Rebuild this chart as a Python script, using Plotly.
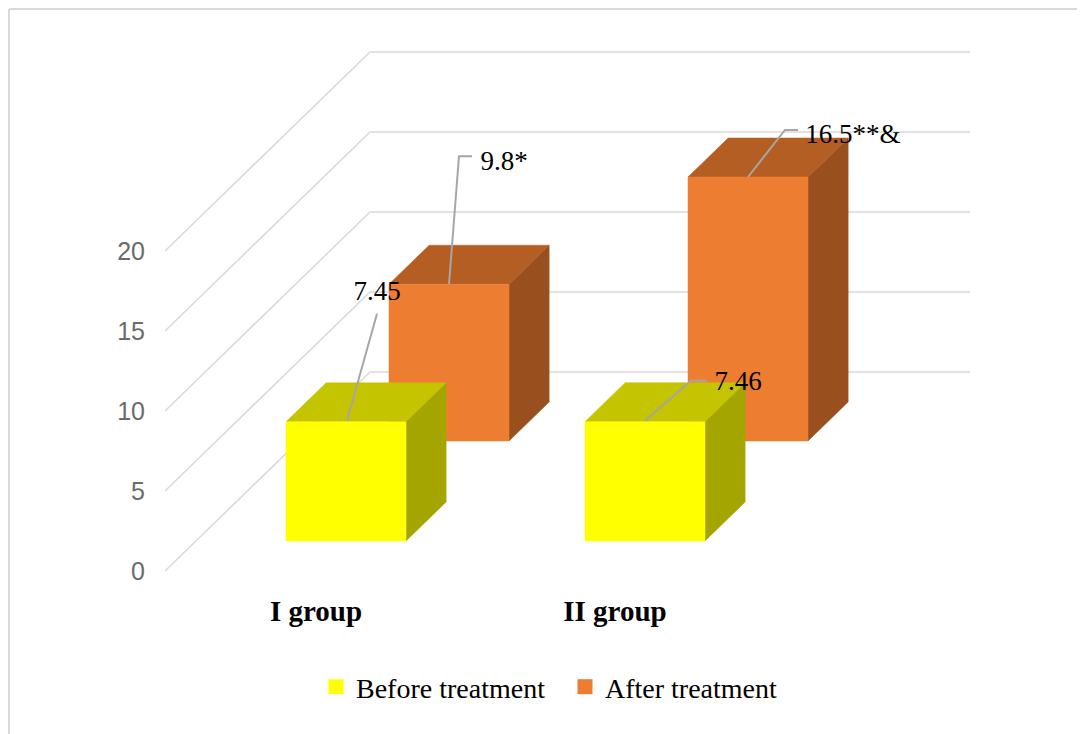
import plotly.graph_objects as go

# ---- data ----
groups = ["I group", "II group"]
series_names = ["Before treatment", "After treatment"]
before = [7.45, 7.46]
after = [9.8, 16.5]
before_labels = ["7.45", "7.46"]
after_labels = ["9.8*", "16.5**&"]
y_ticks = [0, 5, 10, 15, 20]

# ---- page / projection settings ----
PAGE_W, PAGE_H = 1085, 734
BODY_MARGIN = 8              # browser default body margin
W, H = PAGE_W - BODY_MARGIN, PAGE_H - BODY_MARGIN
LEFT_PX = 150.0
AXIS_PX = 591.0
PX_PER_UNIT = 16.0
Y0_PX = 571.0
X_SLOPE = 1.03
GROUP_STEP = 299.0
BAR_X0 = 255.1
BAR_W = 120.0
BAR_DEPTH = 39.0
ROW_D = [30.0, 130.0]
WALL_D = 199.0
FLOOR_X = 165.0
WALL_END_X = 970.0
COL = {
    0: ("#FFFF00", "#C4C400", "#A5A500"),
    1: ("#ED7D31", "#B55E23", "#9A501E"),
}


def val_px(py):
    return (Y0_PX - py) / PX_PER_UNIT


def paper_x(px):
    return (px - LEFT_PX) / (PAGE_W - LEFT_PX)


def paper_y(py):
    return (AXIS_PX - py) / (AXIS_PX - BODY_MARGIN)


def proj(x, d, v):
    """x (axis px units) and value at depth d -> axis coordinates."""
    return x + d * X_SLOPE, v + d / PX_PER_UNIT


fig = go.Figure()


def poly(points, fill):
    fig.add_trace(go.Scatter(
        x=[p[0] for p in points] + [points[0][0]],
        y=[p[1] for p in points] + [points[0][1]],
        mode="lines", fill="toself", fillcolor=fill,
        line=dict(color=fill, width=0.5), showlegend=False, hoverinfo="skip",
    ))


def line(xs, ys, color, width):
    fig.add_trace(go.Scatter(
        x=xs, y=ys, mode="lines", line=dict(color=color, width=width),
        showlegend=False, hoverinfo="skip", cliponaxis=False,
    ))


# grid: side wall + back wall
for t in y_ticks:
    a = (FLOOR_X, t)
    b = (FLOOR_X + WALL_D * X_SLOPE, t + WALL_D / PX_PER_UNIT)
    c = (WALL_END_X, b[1])
    line([a[0], b[0], c[0]], [a[1], b[1], c[1]], "#D9D9D9", 1.5)


def bar(group_i, row, value):
    front, top, side = COL[row]
    x0 = BAR_X0 + GROUP_STEP * group_i
    x1 = x0 + BAR_W
    d0 = ROW_D[row]
    d1 = d0 + BAR_DEPTH
    poly([proj(x1, d0, 0), proj(x1, d1, 0), proj(x1, d1, value), proj(x1, d0, value)], side)
    poly([proj(x0, d0, value), proj(x0, d1, value), proj(x1, d1, value), proj(x1, d0, value)], top)
    poly([proj(x0, d0, 0), proj(x1, d0, 0), proj(x1, d0, value), proj(x0, d0, value)], front)


for i in range(len(groups)):
    bar(i, 1, after[i])
for i in range(len(groups)):
    bar(i, 0, before[i])


def leader_and_label(group_i, row, value, text, path, label_off, size):
    x0 = BAR_X0 + GROUP_STEP * group_i + BAR_W / 2
    ax, ay = proj(x0, ROW_D[row], value)
    xs = [ax + p[0] for p in path]
    ys = [ay - p[1] / PX_PER_UNIT for p in path]
    line(xs, ys, "#A6A6A6", 2)
    fig.add_trace(go.Scatter(
        x=[ax + label_off[0]], y=[ay - label_off[1] / PX_PER_UNIT],
        mode="text", text=[text], textposition="middle center",
        textfont=dict(family="Liberation Serif", size=size, color="#000000"),
        showlegend=False, hoverinfo="skip", cliponaxis=False,
    ))


leader_and_label(0, 0, before[0], before_labels[0], [(1, -1), (31, -108)], (31, -129), 27)
leader_and_label(1, 0, before[1], before_labels[1], [(0, -1), (46, -41), (62, -41)], (93, -38), 27)
leader_and_label(0, 1, after[0], after_labels[0], [(0, 0), (10, -128), (23, -128)], (55, -121), 27)
leader_and_label(1, 1, after[1], after_labels[1], [(0, 0), (37, -47), (50, -47)], (105, -41), 27)

# legend entries
for name, row in zip(series_names, (0, 1)):
    fig.add_trace(go.Scatter(
        x=[None], y=[None], mode="markers", name=name,
        marker=dict(symbol="square", size=15, color=COL[row][0]),
    ))

# chart frame (left and top edges)
frame = dict(color="#D9D9D9", width=2)
fig.add_shape(type="line", xref="paper", yref="paper", layer="below", line=frame,
              x0=paper_x(9), x1=paper_x(9), y0=paper_y(PAGE_H), y1=paper_y(9))
fig.add_shape(type="line", xref="paper", yref="paper", layer="below", line=frame,
              x0=paper_x(9), x1=paper_x(PAGE_W), y0=paper_y(9), y1=paper_y(9))

fig.update_layout(
    width=W, height=H,
    margin=dict(l=LEFT_PX - BODY_MARGIN, r=0, t=0, b=PAGE_H - AXIS_PX, pad=0),
    paper_bgcolor="white", plot_bgcolor="white",
    xaxis=dict(
        range=[LEFT_PX, PAGE_W], showgrid=False, zeroline=False, showline=False,
        tickmode="array", tickvals=[316, 615], ticktext=groups,
        ticks="",
        tickfont=dict(family="Liberation Serif", size=29, color="#000000", weight="bold"),
    ),
    yaxis=dict(
        range=[val_px(AXIS_PX), val_px(BODY_MARGIN)], showgrid=False, zeroline=False, showline=False,
        tickmode="array", tickvals=y_ticks,
        ticks="", ticklabelstandoff=4,
        tickfont=dict(family="Liberation Sans", size=25, color="#6B6B6B"),
    ),
    legend=dict(
        orientation="h", x=paper_x(316), y=paper_y(687),
        xanchor="left", yanchor="middle",
        font=dict(family="Liberation Serif", size=28, color="#000000"),
        itemwidth=30, entrywidth=204, entrywidthmode="pixels", bgcolor="rgba(0,0,0,0)",
    ),
    showlegend=True,
)

fig.write_html("out.html")
